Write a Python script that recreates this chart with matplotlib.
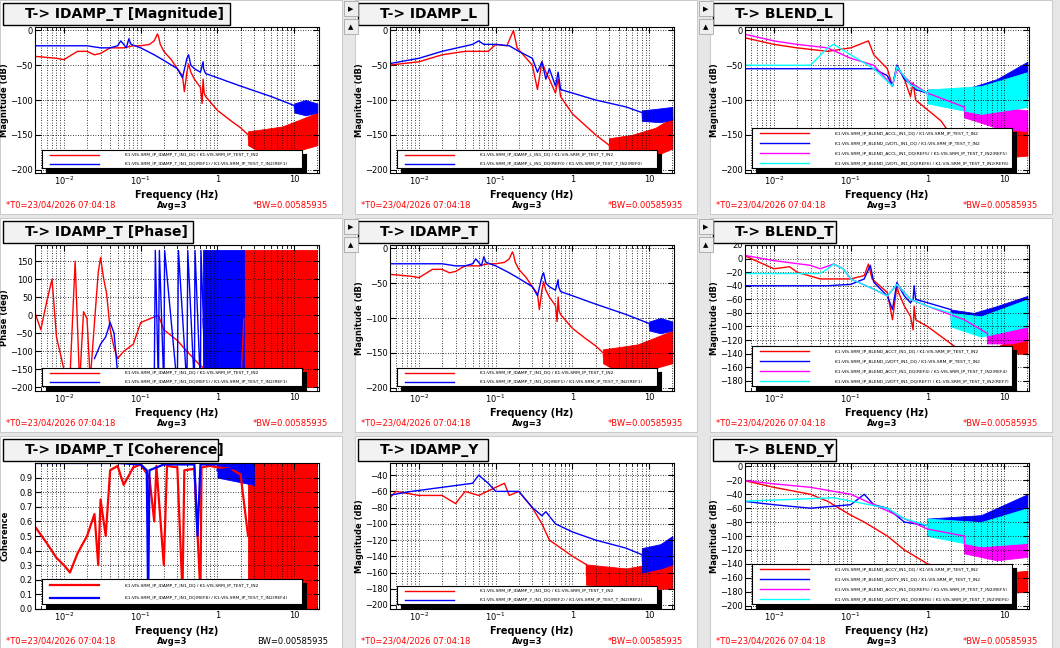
import numpy as np
import matplotlib
matplotlib.use("Agg")
import matplotlib.pyplot as plt
from matplotlib.patches import Rectangle
from matplotlib.ticker import FixedLocator, FixedFormatter, LogLocator, NullFormatter

# ---------------- data ----------------
# IDAMP_T magnitude (used in the top-left and centre panels)
t_red_f = [0.004, 0.008, 0.01, 0.015, 0.02, 0.025, 0.03, 0.04, 0.06, 0.08, 0.1, 0.13, 0.15, 0.165, 0.17, 0.18, 0.2, 0.25, 0.3, 0.35, 0.37, 0.4, 0.42, 0.45, 0.5, 0.6, 0.63, 0.65, 0.67, 0.7, 1.0, 1.5, 2.0, 2.5]
t_red_db = [-37, -40, -42, -30, -30, -35, -33, -25, -25, -22, -22, -20, -15, -5, -8, -20, -30, -42, -55, -65, -88, -60, -48, -60, -70, -82, -105, -70, -90, -95, -115, -130, -140, -150]
t_red_band_f = [2.5, 4, 7, 12, 20]
t_red_band_lo = [-165, -178, -180, -172, -165]
t_red_band_hi = [-145, -142, -138, -128, -118]
t_blue_f = [0.004, 0.02, 0.03, 0.04, 0.05, 0.055, 0.06, 0.065, 0.07, 0.075, 0.1, 0.15, 0.2, 0.3, 0.35, 0.4, 0.42, 0.45, 0.5, 0.6, 0.65, 0.66, 0.7, 1, 2, 5, 10]
t_blue_db = [-22, -22, -25, -25, -22, -15, -20, -25, -12, -20, -25, -35, -43, -55, -68, -40, -35, -50, -55, -60, -45, -55, -62, -68, -80, -95, -108]
t_blue_band_f = [10, 14, 20]
t_blue_band_lo = [-118, -122, -118]
t_blue_band_hi = [-105, -100, -105]

# IDAMP_T phase
ph_red_f = [0.004, 0.005, 0.006, 0.007, 0.008, 0.01, 0.012, 0.014, 0.016, 0.018, 0.02, 0.022, 0.025, 0.028, 0.03, 0.033, 0.036, 0.04, 0.045, 0.05, 0.06, 0.08, 0.1, 0.13, 0.17, 0.2, 0.3, 0.4, 0.6, 1.0, 1.5, 2.0]
ph_red_deg = [20, -40, 40, 100, -60, -150, -170, 150, -190, 10, -10, -180, -20, 120, 160, 100, 60, -40, -90, -120, -100, -80, -20, -10, 0, -40, -70, -100, -140, -170, -190, -200]
ph_red_band_f = [2.2, 20]
ph_red_band_lo = [-200, -200]
ph_red_band_hi = [180, 180]
ph_blue_f = [0.025, 0.03, 0.035, 0.04, 0.045, 0.05, 0.06, 0.08, 0.1, 0.13, 0.15, 0.155, 0.17, 0.175, 0.2, 0.205, 0.3, 0.31, 0.4, 0.41, 0.5, 0.51, 0.6, 0.61, 0.7]
ph_blue_deg = [-120, -80, -60, -20, -50, -160, -200, -200, -190, -195, -200, 180, -200, 180, -200, 180, -200, 180, -200, 180, -200, 180, -200, 180, -200]
ph_blue_band_f = [0.65, 2.2]
ph_blue_band_lo = [-200, -200]
ph_blue_band_hi = [180, 180]

# IDAMP_T coherence
co_red_f = [0.004, 0.006, 0.008, 0.01, 0.012, 0.015, 0.02, 0.025, 0.028, 0.03, 0.035, 0.04, 0.05, 0.06, 0.08, 0.1, 0.13, 0.15, 0.16, 0.2, 0.22, 0.3, 0.35, 0.37, 0.5, 0.6, 0.62, 0.8, 1.0, 1.5, 2.0]
co_red_c = [0.58, 0.45, 0.35, 0.3, 0.25, 0.38, 0.5, 0.65, 0.3, 0.75, 0.5, 0.95, 0.98, 0.85, 0.97, 0.99, 0.9, 0.6, 0.98, 0.3, 0.98, 0.97, 0.1, 0.95, 0.96, 0.1, 0.97, 0.98, 0.97, 0.96, 0.92]
co_red_band_f = [2.5, 20]
co_red_band_lo = [0.0, 0.0]
co_red_band_hi = [1.0, 1.0]
co_blue_f = [0.004, 0.05, 0.1, 0.12, 0.125, 0.13, 0.2, 0.5, 0.55, 0.6, 1.0, 2.0]
co_blue_c = [1.0, 1.0, 0.99, 0.95, 0.02, 0.95, 0.99, 0.99, 0.5, 0.99, 0.99, 0.97]
co_blue_band_f = [1.0, 3.0]
co_blue_band_lo = [0.9, 0.85]
co_blue_band_hi = [1.0, 1.0]

# IDAMP_L
l_red_f = [0.004, 0.01, 0.02, 0.04, 0.08, 0.1, 0.14, 0.17, 0.19, 0.25, 0.3, 0.35, 0.4, 0.45, 0.5, 0.6, 0.65, 0.7, 1, 2, 3]
l_red_db = [-50, -45, -35, -30, -30, -20, -22, 0, -25, -40, -50, -85, -45, -60, -70, -90, -70, -95, -120, -150, -165]
l_red_band_f = [3, 6, 12, 20]
l_red_band_lo = [-185, -185, -180, -170]
l_red_band_hi = [-155, -150, -140, -125]
l_blue_f = [0.004, 0.01, 0.02, 0.05, 0.06, 0.07, 0.1, 0.15, 0.2, 0.3, 0.35, 0.4, 0.45, 0.5, 0.6, 0.65, 0.7, 1, 2, 5, 8]
l_blue_db = [-48, -40, -30, -20, -15, -20, -20, -22, -30, -40, -60, -45, -70, -55, -80, -60, -85, -90, -100, -110, -118]
l_blue_band_f = [8, 14, 20]
l_blue_band_lo = [-130, -132, -128]
l_blue_band_hi = [-115, -112, -110]

# BLEND_L
bl_red_f = [0.004, 0.01, 0.02, 0.05, 0.1, 0.17, 0.2, 0.3, 0.35, 0.4, 0.5, 0.6, 0.65, 0.7, 1.5, 2]
bl_red_db = [-10, -20, -25, -30, -25, -15, -35, -55, -80, -50, -70, -95, -75, -100, -130, -150]
bl_red_band_f = [2, 6, 20]
bl_red_band_lo = [-180, -185, -180]
bl_red_band_hi = [-150, -150, -140]
bl_blue_f = [0.004, 0.15, 0.2, 0.3, 0.35, 0.4, 0.5, 0.65, 0.7, 1]
bl_blue_db = [-55, -55, -55, -65, -80, -50, -70, -80, -85, -90]
bl_blue_band_f = [1, 3, 8, 20]
bl_blue_band_lo = [-100, -115, -110, -95]
bl_blue_band_hi = [-85, -85, -70, -45]
bl_mag_f = [0.004, 0.01, 0.02, 0.05, 0.1, 0.2, 0.35, 0.4, 0.6, 1, 3]
bl_mag_db = [-5, -15, -20, -25, -40, -50, -80, -55, -75, -90, -110]
bl_mag_band_f = [3, 8, 20]
bl_mag_band_lo = [-125, -140, -145]
bl_mag_band_hi = [-105, -110, -115]
bl_cyan_f = [0.004, 0.03, 0.05, 0.06, 0.1, 0.2, 0.35, 0.4, 0.6, 1]
bl_cyan_db = [-50, -50, -25, -20, -35, -55, -80, -52, -78, -90]
bl_cyan_band_f = [1, 5, 20]
bl_cyan_band_lo = [-105, -120, -110]
bl_cyan_band_hi = [-85, -80, -60]

# BLEND_T
bt_red_f = [0.004, 0.01, 0.016, 0.02, 0.04, 0.05, 0.1, 0.15, 0.17, 0.19, 0.3, 0.35, 0.4, 0.42, 0.5, 0.6, 0.65, 0.67, 0.7, 1, 2, 3]
bt_red_db = [5, -15, -12, -20, -30, -30, -30, -25, -8, -30, -50, -90, -40, -50, -70, -85, -105, -70, -90, -100, -125, -140]
bt_red_band_f = [3, 8, 20]
bt_red_band_lo = [-145, -140, -140]
bt_red_band_hi = [-140, -130, -108]
bt_blue_f = [0.004, 0.05, 0.1, 0.15, 0.18, 0.2, 0.3, 0.35, 0.4, 0.42, 0.5, 0.6, 0.65, 0.67, 0.7, 1, 2]
bt_blue_db = [-40, -40, -38, -30, -10, -35, -55, -75, -35, -40, -55, -65, -60, -40, -60, -65, -75]
bt_blue_band_f = [2, 4, 8, 20]
bt_blue_band_lo = [-90, -110, -105, -90]
bt_blue_band_hi = [-75, -80, -70, -55]
bt_mag_f = [0.004, 0.01, 0.03, 0.04, 0.06, 0.08, 0.1, 0.2, 0.3, 0.4, 0.6, 1, 3, 6]
bt_mag_db = [5, -3, -10, -15, -8, -15, -30, -45, -55, -38, -60, -70, -90, -110]
bt_mag_band_f = [6, 12, 20]
bt_mag_band_lo = [-125, -125, -120]
bt_mag_band_hi = [-110, -105, -95]
bt_cyan_f = [0.004, 0.04, 0.05, 0.06, 0.08, 0.1, 0.2, 0.3, 0.4, 0.6, 1, 2]
bt_cyan_db = [-22, -22, -15, -8, -15, -30, -45, -55, -38, -60, -70, -80]
bt_cyan_band_f = [2, 5, 20]
bt_cyan_band_lo = [-100, -115, -100]
bt_cyan_band_hi = [-80, -85, -60]

# IDAMP_Y
y_red_f = [0.004, 0.005, 0.01, 0.02, 0.03, 0.04, 0.06, 0.1, 0.13, 0.15, 0.2, 0.3, 0.4, 0.5, 1, 1.5]
y_red_db = [-70, -60, -65, -65, -75, -60, -65, -55, -50, -65, -60, -80, -100, -120, -140, -150]
y_red_band_f = [1.5, 5, 20]
y_red_band_lo = [-175, -180, -180]
y_red_band_hi = [-150, -155, -145]
y_blue_f = [0.004, 0.008, 0.02, 0.05, 0.06, 0.08, 0.1, 0.2, 0.3, 0.4, 0.45, 0.6, 1, 2, 5, 8]
y_blue_db = [-65, -60, -55, -50, -40, -50, -60, -60, -80, -90, -85, -100, -110, -120, -130, -138]
y_blue_band_f = [8, 14, 20]
y_blue_band_lo = [-160, -155, -150]
y_blue_band_hi = [-130, -125, -115]

# BLEND_Y
by_red_f = [0.004, 0.01, 0.03, 0.05, 0.1, 0.15, 0.3, 0.5, 1, 2]
by_red_db = [-20, -30, -40, -50, -70, -80, -100, -120, -140, -150]
by_red_band_f = [2, 6, 20]
by_red_band_lo = [-180, -185, -180]
by_red_band_hi = [-150, -155, -150]
by_blue_f = [0.004, 0.01, 0.03, 0.1, 0.15, 0.2, 0.3, 0.5, 1]
by_blue_db = [-50, -55, -60, -55, -40, -55, -60, -80, -85]
by_blue_band_f = [1, 5, 20]
by_blue_band_lo = [-100, -105, -90]
by_blue_band_hi = [-75, -70, -40]
by_mag_f = [0.004, 0.01, 0.03, 0.1, 0.2, 0.5, 1, 3]
by_mag_db = [-20, -25, -30, -40, -55, -75, -90, -100]
by_mag_band_f = [3, 8, 20]
by_mag_band_lo = [-125, -135, -130]
by_mag_band_hi = [-100, -105, -100]
by_cyan_f = [0.004, 0.06, 0.3, 0.5, 1]
by_cyan_db = [-50, -45, -60, -75, -85]
by_cyan_band_f = [1, 5, 20]
by_cyan_band_lo = [-100, -115, -110]
by_cyan_band_hi = [-75, -80, -60]

footer_left = "*T0=23/04/2026 07:04:18"
footer_mid = "Avg=3"
footer_right = "*BW=0.00585935"

lg_t = ["K1:VIS-SRM_IP_IDAMP_T_IN1_DQ / K1:VIS-SRM_IP_TEST_T_IN2",
        "K1:VIS-SRM_IP_IDAMP_T_IN1_DQ(REF1) / K1:VIS-SRM_IP_TEST_T_IN2(REF1)"]
lg_co = ["K1:VIS-SRM_IP_IDAMP_T_IN1_DQ / K1:VIS-SRM_IP_TEST_T_IN2",
         "K1:VIS-SRM_IP_IDAMP_T_IN1_DQ(REF8) / K1:VIS-SRM_IP_TEST_T_IN2(REF4)"]
lg_l = ["K1:VIS-SRM_IP_IDAMP_L_IN1_DQ / K1:VIS-SRM_IP_TEST_T_IN2",
        "K1:VIS-SRM_IP_IDAMP_L_IN1_DQ(REF0) / K1:VIS-SRM_IP_TEST_T_IN2(REF0)"]
lg_y = ["K1:VIS-SRM_IP_IDAMP_Y_IN1_DQ / K1:VIS-SRM_IP_TEST_T_IN2",
        "K1:VIS-SRM_IP_IDAMP_Y_IN1_DQ(REF2) / K1:VIS-SRM_IP_TEST_T_IN2(REF2)"]
lg_bl = ["K1:VIS-SRM_IP_BLEND_ACCL_IN1_DQ / K1:VIS-SRM_IP_TEST_T_IN2",
         "K1:VIS-SRM_IP_BLEND_LVDTL_IN1_DQ / K1:VIS-SRM_IP_TEST_T_IN2",
         "K1:VIS-SRM_IP_BLEND_ACCL_IN1_DQ(REF5) / K1:VIS-SRM_IP_TEST_T_IN2(REF5)",
         "K1:VIS-SRM_IP_BLEND_LVDTL_IN1_DQ(REF6) / K1:VIS-SRM_IP_TEST_T_IN2(REF6)"]
lg_bt = ["K1:VIS-SRM_IP_BLEND_ACCT_IN1_DQ / K1:VIS-SRM_IP_TEST_T_IN2",
         "K1:VIS-SRM_IP_BLEND_LVDTT_IN1_DQ / K1:VIS-SRM_IP_TEST_T_IN2",
         "K1:VIS-SRM_IP_BLEND_ACCT_IN1_DQ(REF4) / K1:VIS-SRM_IP_TEST_T_IN2(REF4)",
         "K1:VIS-SRM_IP_BLEND_LVDTT_IN1_DQ(REF7) / K1:VIS-SRM_IP_TEST_T_IN2(REF7)"]
lg_by = ["K1:VIS-SRM_IP_BLEND_ACCY_IN1_DQ / K1:VIS-SRM_IP_TEST_T_IN2",
         "K1:VIS-SRM_IP_BLEND_LVDTY_IN1_DQ / K1:VIS-SRM_IP_TEST_T_IN2",
         "K1:VIS-SRM_IP_BLEND_ACCY_IN1_DQ(REF5) / K1:VIS-SRM_IP_TEST_T_IN2(REF5)",
         "K1:VIS-SRM_IP_BLEND_LVDTY_IN1_DQ(REF6) / K1:VIS-SRM_IP_TEST_T_IN2(REF6)"]

RED, BLUE, MAG, CYAN = "#ff0000", "#0000ff", "#ff00ff", "#00ffff"

W, H = 1060, 648
fig = plt.figure(figsize=(W / 100, H / 100), dpi=100)
fig.patch.set_facecolor("#e6e6e6")


def px(x, y, w, h):
    return [x / W, 1 - (y + h) / H, w / W, h / H]


def panel(col, row, title, tw, ylabel, ylim, yticks, traces, labels, lg_top, bw_red=True, lw=1.0):
    x0 = [0, 355, 710][col]
    y0 = [0, 218, 436][row]
    fig.patches.append(Rectangle((x0 / W, 1 - (y0 + 214) / H), 342 / W, 214 / H,
                                 transform=fig.transFigure, facecolor="white", edgecolor="#bbbbbb",
                                 lw=0.5, zorder=-10))
    ax = fig.add_axes(px(x0 + 35, y0 + 27, 284, 146))
    handles = []
    for f, v, bf, blo, bhi, c in traces:
        h, = ax.plot(f, v, color=c, lw=lw)
        ax.plot([f[-1], bf[0]], [v[-1], (blo[0] + bhi[0]) / 2], color=c, lw=lw)
        ax.fill_between(bf, blo, bhi, color=c, lw=0.6, edgecolor=c)
        handles.append(h)
    ax.set_xscale("log")
    ax.set_xlim(0.0042, 21)
    ax.set_ylim(*ylim)
    ax.yaxis.set_major_locator(FixedLocator(yticks))
    ax.xaxis.set_major_locator(FixedLocator([0.01, 0.1, 1, 10]))
    ax.xaxis.set_major_formatter(FixedFormatter(["$10^{-2}$", "$10^{-1}$", "1", "10"]))
    ax.xaxis.set_minor_locator(LogLocator(base=10, subs=np.arange(2, 10)))
    ax.xaxis.set_minor_formatter(NullFormatter())
    ax.grid(True, which="both", axis="x", color="black", ls=(0, (1, 2)), lw=0.6)
    ax.grid(True, which="major", axis="y", color="black", ls=(0, (1, 2)), lw=0.6)
    ax.tick_params(which="both", direction="in", top=True, right=True, labelsize=6, pad=1.5)
    ax.tick_params(which="major", length=4)
    ax.tick_params(which="minor", length=2)
    ax.set_ylabel(ylabel, fontsize=6, fontweight="bold")
    ax.yaxis.set_label_coords(-0.09, 0.5)
    ax.set_xlabel("Frequency (Hz)", fontsize=7, fontweight="bold", labelpad=2)
    for s in ax.spines.values():
        s.set_linewidth(0.8)
    # legend box with drop shadow
    lh = 172 - lg_top - 4
    sax = fig.add_axes(px(x0 + 46, y0 + lg_top + 4, 260, lh))
    sax.set_facecolor("black")
    sax.set_xticks([])
    sax.set_yticks([])
    lax = fig.add_axes(px(x0 + 42, y0 + lg_top, 260, lh))
    lax.set_xlim(0, 1)
    lax.set_ylim(0, 1)
    lax.set_xticks([])
    lax.set_yticks([])
    n = len(labels)
    for i, (lab, h) in enumerate(zip(labels, handles)):
        yy = 1 - (i + 0.5) / n
        lax.plot([0.03, 0.22], [yy, yy], color=h.get_color(), lw=lw)
        lax.text(0.32, yy, lab, fontsize=3.2, va="center", ha="left")
    # title box
    fig.patches.append(Rectangle(((x0 + 3) / W, 1 - (y0 + 25) / H), tw / W, 22 / H,
                                 transform=fig.transFigure, facecolor="#f2f2f2", edgecolor="black",
                                 lw=1.0, zorder=5))
    fig.text((x0 + 3 + 22) / W, 1 - (y0 + 14) / H, title, fontsize=10, fontweight="bold",
             va="center", zorder=6)
    # footer
    fy = 1 - (y0 + 205) / H
    fig.text((x0 + 6) / W, fy, footer_left, fontsize=6, color="red", va="center")
    fig.text((x0 + 172) / W, fy, footer_mid, fontsize=6, fontweight="bold", va="center", ha="center")
    fig.text((x0 + 328) / W, fy, footer_right if bw_red else footer_right[1:], fontsize=6,
             color="red" if bw_red else "black", va="center", ha="right")
    return ax


mag_ticks = [0, -50, -100, -150, -200]
panel(0, 0, "T-> IDAMP_T [Magnitude]", 227, "Magnitude (dB)", (-205, 5), mag_ticks,
      [(t_red_f, t_red_db, t_red_band_f, t_red_band_lo, t_red_band_hi, RED),
       (t_blue_f, t_blue_db, t_blue_band_f, t_blue_band_lo, t_blue_band_hi, BLUE)], lg_t, 150)
panel(0, 1, "T-> IDAMP_T [Phase]", 190, "Phase (deg)", (-210, 195), [-200, -150, -100, -50, 0, 50, 100, 150],
      [(ph_red_f, ph_red_deg, ph_red_band_f, ph_red_band_lo, ph_red_band_hi, RED),
       (ph_blue_f, ph_blue_deg, ph_blue_band_f, ph_blue_band_lo, ph_blue_band_hi, BLUE)], lg_t, 150)
panel(0, 2, "T-> IDAMP_T [Coherence]", 215, "Coherence", (0, 1.0), [0, 0.1, 0.2, 0.3, 0.4, 0.5, 0.6, 0.7, 0.8, 0.9],
      [(co_red_f, co_red_c, co_red_band_f, co_red_band_lo, co_red_band_hi, RED),
       (co_blue_f, co_blue_c, co_blue_band_f, co_blue_band_lo, co_blue_band_hi, BLUE)], lg_co, 143, bw_red=False, lw=1.6)
panel(1, 0, "T-> IDAMP_L", 130, "Magnitude (dB)", (-205, 5), mag_ticks,
      [(l_red_f, l_red_db, l_red_band_f, l_red_band_lo, l_red_band_hi, RED),
       (l_blue_f, l_blue_db, l_blue_band_f, l_blue_band_lo, l_blue_band_hi, BLUE)], lg_l, 150)
panel(1, 1, "T-> IDAMP_T", 130, "Magnitude (dB)", (-205, 5), mag_ticks,
      [(t_red_f, t_red_db, t_red_band_f, t_red_band_lo, t_red_band_hi, RED),
       (t_blue_f, t_blue_db, t_blue_band_f, t_blue_band_lo, t_blue_band_hi, BLUE)], lg_t, 150)
panel(1, 2, "T-> IDAMP_Y", 130, "Magnitude (dB)", (-205, -25), list(range(-200, -30, 20)),
      [(y_red_f, y_red_db, y_red_band_f, y_red_band_lo, y_red_band_hi, RED),
       (y_blue_f, y_blue_db, y_blue_band_f, y_blue_band_lo, y_blue_band_hi, BLUE)], lg_y, 150)
panel(2, 0, "T-> BLEND_L", 130, "Magnitude (dB)", (-205, 5), mag_ticks,
      [(bl_red_f, bl_red_db, bl_red_band_f, bl_red_band_lo, bl_red_band_hi, RED),
       (bl_blue_f, bl_blue_db, bl_blue_band_f, bl_blue_band_lo, bl_blue_band_hi, BLUE),
       (bl_mag_f, bl_mag_db, bl_mag_band_f, bl_mag_band_lo, bl_mag_band_hi, MAG),
       (bl_cyan_f, bl_cyan_db, bl_cyan_band_f, bl_cyan_band_lo, bl_cyan_band_hi, CYAN)], lg_bl, 128)
panel(2, 1, "T-> BLEND_T", 123, "Magnitude (dB)", (-195, 20), list(range(-180, 21, 20)),
      [(bt_red_f, bt_red_db, bt_red_band_f, bt_red_band_lo, bt_red_band_hi, RED),
       (bt_blue_f, bt_blue_db, bt_blue_band_f, bt_blue_band_lo, bt_blue_band_hi, BLUE),
       (bt_mag_f, bt_mag_db, bt_mag_band_f, bt_mag_band_lo, bt_mag_band_hi, MAG),
       (bt_cyan_f, bt_cyan_db, bt_cyan_band_f, bt_cyan_band_lo, bt_cyan_band_hi, CYAN)], lg_bt, 128)
panel(2, 2, "T-> BLEND_Y", 123, "Magnitude (dB)", (-205, 5), list(range(-200, 1, 20)),
      [(by_red_f, by_red_db, by_red_band_f, by_red_band_lo, by_red_band_hi, RED),
       (by_blue_f, by_blue_db, by_blue_band_f, by_blue_band_lo, by_blue_band_hi, BLUE),
       (by_mag_f, by_mag_db, by_mag_band_f, by_mag_band_lo, by_mag_band_hi, MAG),
       (by_cyan_f, by_cyan_db, by_cyan_band_f, by_cyan_band_lo, by_cyan_band_hi, CYAN)], lg_by, 128)

# little arrow buttons between panels
for bx in [344, 699]:
    for by in [0, 218]:
        for k, sym in enumerate(["\u25B6", "\u25B2"]):
            fig.patches.append(Rectangle((bx / W, 1 - (by + 16 + k * 18) / H), 14 / W, 15 / H,
                                         transform=fig.transFigure, facecolor="#eeeeee",
                                         edgecolor="#999999", lw=0.5, zorder=5))
            fig.text((bx + 7) / W, 1 - (by + 9 + k * 18) / H, sym, fontsize=5, ha="center",
                     va="center", zorder=6)

fig.savefig("out.png", dpi=100, facecolor=fig.get_facecolor())
